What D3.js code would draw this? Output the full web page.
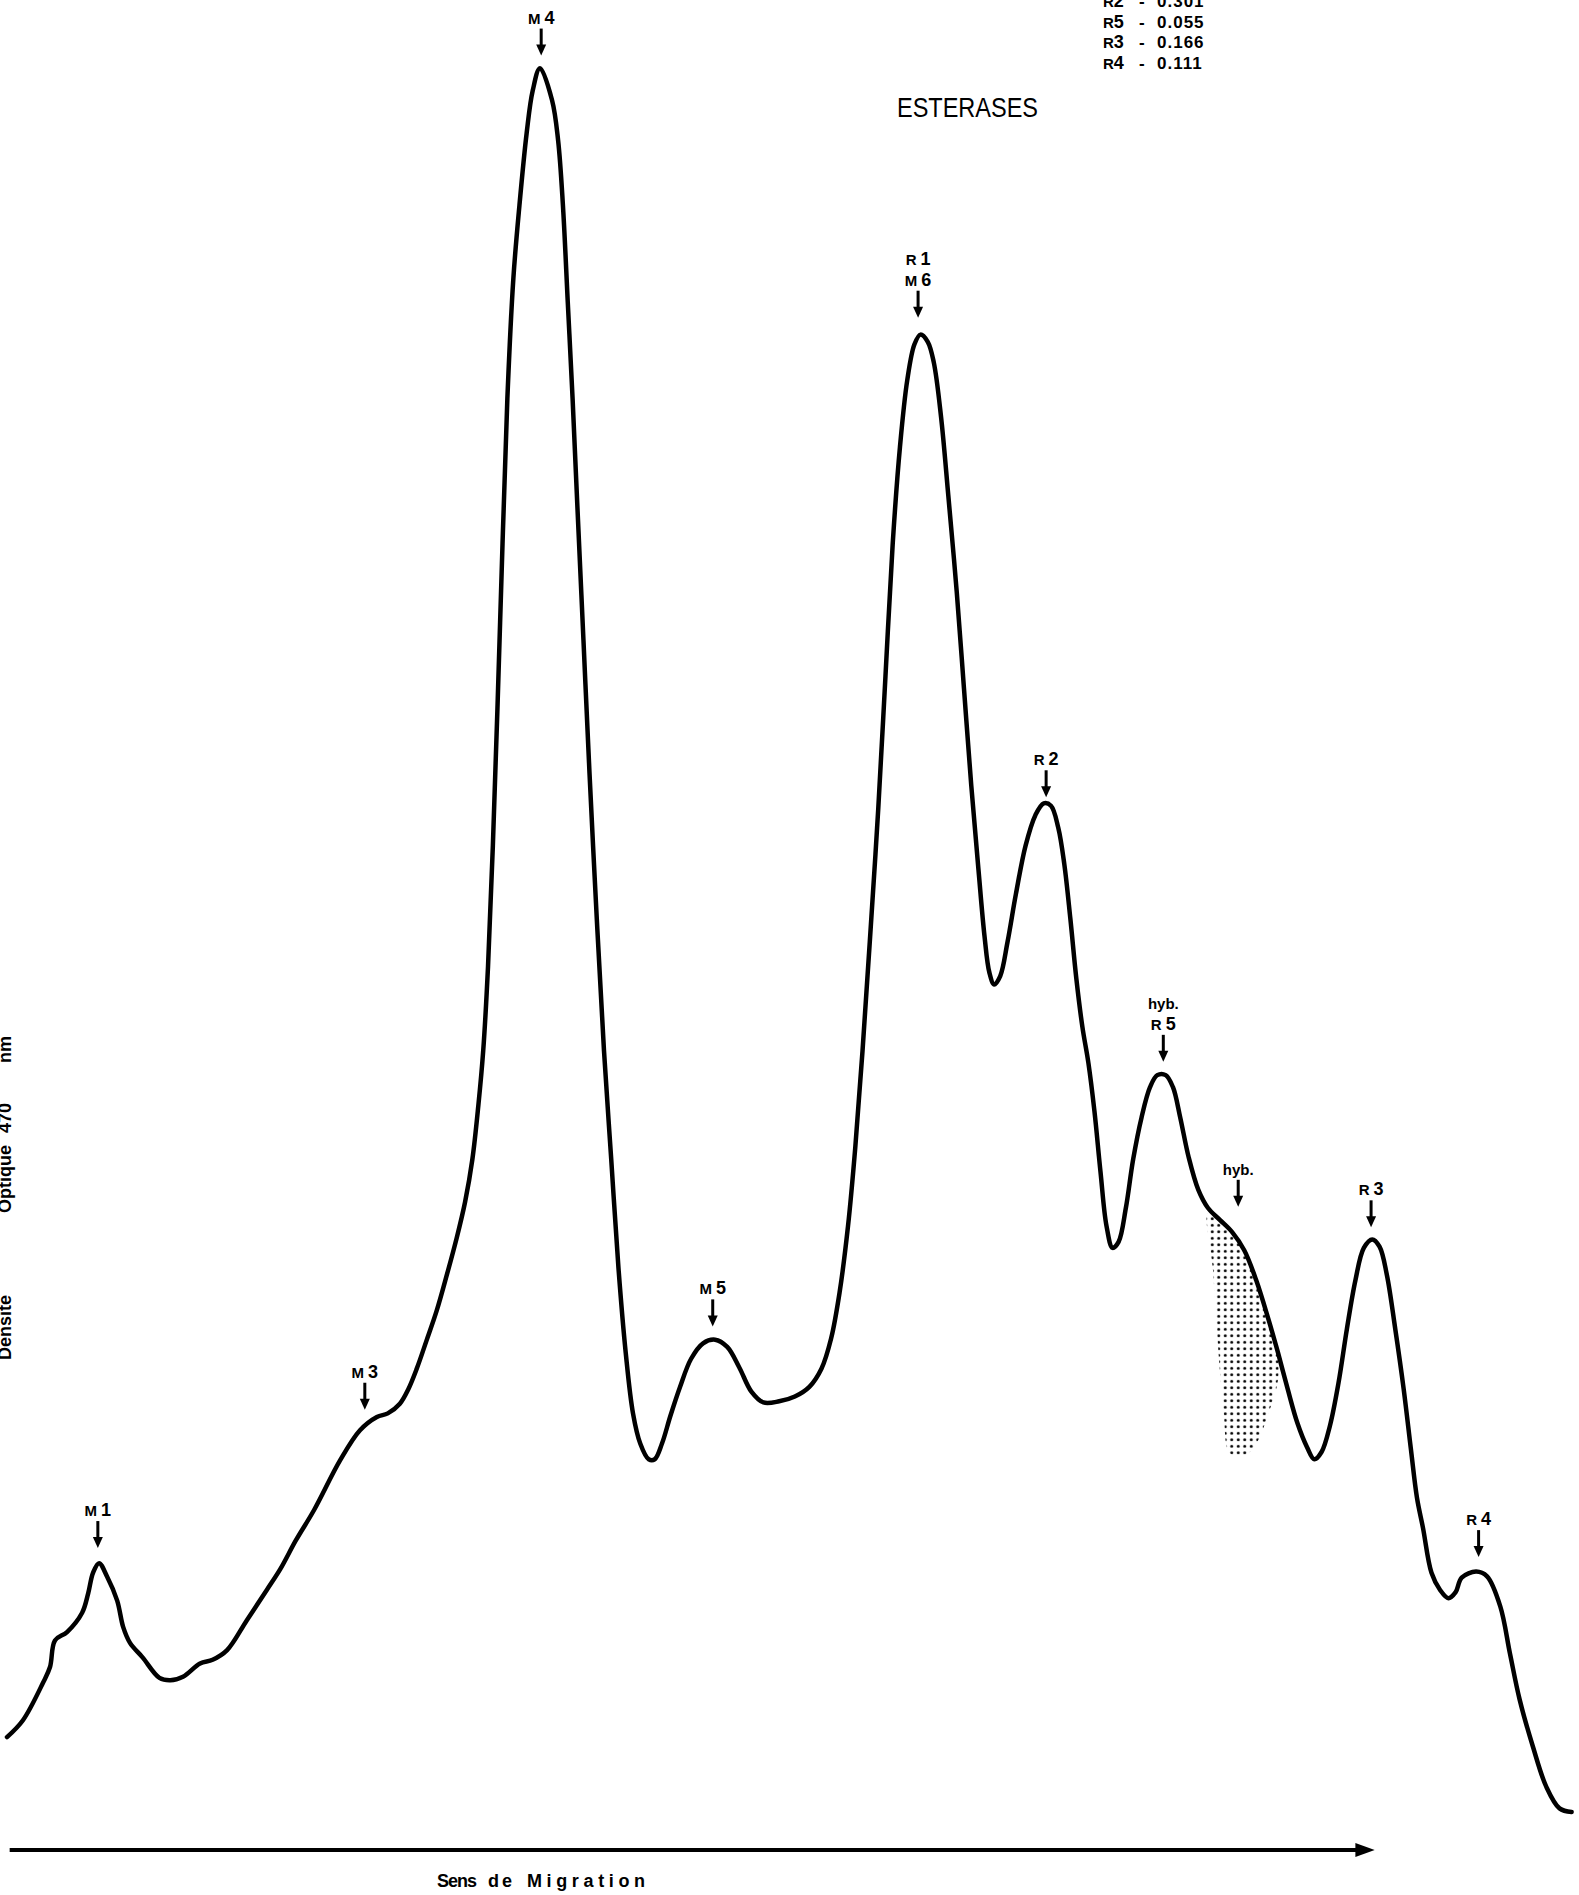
<!DOCTYPE html>
<html>
<head>
<meta charset="utf-8">
<script src="https://cdn.jsdelivr.net/npm/d3@7/dist/d3.min.js"></script>
<style>
  body { margin: 0; background: #fff; }
  svg { display: block; background: #fff; }
</style>
</head>
<body>
<svg width="1579" height="1895"></svg>
<script>
// densitogram trace: migration distance (arbitrary units) and optical density
var migration = [0.58, 1.9, 3.56, 4.14, 4.55, 5.55, 6.8, 7.3, 7.7, 8.2, 8.86, 9.7, 10.2, 10.76, 11.8, 13.2, 14.1, 15.15, 16.56, 17.6, 18.8, 20.45, 22.1, 23.2, 24.5, 26.0, 28.15, 29.8, 31.2, 32.1, 33.1, 33.8, 34.5, 35.3, 36.15, 37.0, 37.8, 38.5, 39.1, 39.6, 40.0, 40.4, 40.8, 41.2, 41.6, 42.0, 42.5, 43.0, 43.6, 44.1, 44.7, 45.7, 46.2, 46.6, 47.0, 47.4, 47.8, 48.3, 48.8, 49.4, 50.0, 50.6, 51.2, 51.8, 52.4, 53.0, 53.7, 54.2, 54.8, 55.5, 56.3, 57.2, 58.2, 59.2, 60.2, 61.2, 62.2, 63.2, 64.5, 65.8, 67.0, 68.0, 68.8, 69.5, 70.2, 70.8, 71.4, 72.0, 72.7, 73.3, 73.9, 74.5, 75.1, 75.7, 76.2, 76.8, 77.3, 77.9, 78.5, 79.2, 79.8, 80.4, 81.0, 81.5, 81.9, 82.3, 82.8, 83.4, 84.1, 84.9, 85.7, 86.4, 87.0, 87.6, 88.1, 88.6, 89.1, 89.6, 90.1, 90.6, 91.1, 91.6, 92.1, 92.6, 93.2, 93.8, 94.5, 95.2, 95.8, 96.5, 97.1, 97.7, 98.4, 99.2, 100.0, 101.0, 102.0, 103.0, 104.0, 105.0, 105.8, 106.6, 107.4, 108.2, 108.8, 109.4, 110.1, 110.8, 111.5, 112.2, 112.9, 113.6, 114.2, 114.8, 115.5, 116.2, 116.8, 117.3, 117.8, 118.5, 119.2, 119.9, 120.5, 121.0, 122.2, 123.1, 124.2, 125.0, 125.8, 126.9, 128.0, 129.1, 130.1];
var densite = [6.2, 7.6, 10.7, 12.0, 14.2, 14.9, 16.5, 18.1, 19.8, 20.6, 19.5, 17.5, 15.3, 14.0, 12.8, 11.1, 10.9, 11.2, 12.3, 12.6, 13.4, 15.9, 18.4, 20.1, 22.5, 25.0, 29.1, 31.6, 32.7, 33.0, 33.8, 35.0, 36.7, 39.0, 41.5, 44.5, 47.5, 50.5, 54.0, 58.5, 63.0, 70.0, 80.0, 92.0, 105.0, 117.0, 127.0, 133.0, 139.0, 142.5, 144.35, 141.7, 138.4, 133.0, 125.0, 117.0, 108.0, 97.0, 86.0, 74.0, 63.0, 54.0, 45.0, 38.0, 33.0, 30.5, 29.2, 29.2, 30.5, 32.8, 35.2, 37.5, 38.8, 39.1, 38.5, 36.8, 34.8, 33.9, 34.0, 34.4, 35.2, 36.7, 39.2, 43.0, 48.5, 55.0, 63.0, 72.0, 83.0, 94.0, 105.0, 113.0, 118.5, 121.5, 122.3, 121.7, 120.0, 115.5, 109.0, 101.0, 93.0, 85.0, 78.0, 72.5, 69.5, 68.5, 69.2, 72.0, 76.0, 80.0, 82.5, 83.5, 83.3, 81.5, 78.5, 74.0, 69.0, 65.0, 62.0, 58.0, 53.0, 48.5, 46.7, 47.2, 50.0, 54.0, 57.5, 60.0, 61.0, 61.0, 60.0, 57.5, 54.2, 51.5, 50.0, 49.0, 48.0, 46.5, 44.0, 40.8, 38.0, 35.0, 32.2, 30.2, 29.2, 29.8, 32.0, 35.5, 40.0, 44.0, 46.7, 47.4, 46.8, 44.5, 40.0, 35.0, 30.0, 26.0, 23.5, 19.8, 18.4, 17.7, 18.2, 19.4, 19.9, 19.5, 17.0, 13.1, 9.3, 5.4, 2.1, 0.3, 0.0];

// shaded hybrid zone (outline)
var hybMigration = [100.0, 101.0, 102.0, 103.0, 104.0, 105.0, 105.7, 105.8, 105.0, 104.0, 103.0, 101.8, 101.3, 100.8, 100.4];
var hybDensite = [49.6, 49.0, 48.0, 46.5, 44.0, 40.8, 38.3, 35.8, 33.0, 30.5, 29.5, 29.7, 33.0, 39.0, 45.0];

// band labels: text lines, migration and density where the arrow points
var bandLabels = [["M1"], ["M3"], ["M4"], ["M5"], ["R1", "M6"], ["R2"], ["hyb.", "R5"], ["hyb."], ["R3"], ["R4"]];
var bandMigration = [8.1, 30.2, 44.8, 59.0, 76.0, 86.6, 96.3, 102.5, 113.5, 122.4];
var bandTip = [21.85, 33.3, 145.4, 40.2, 123.7, 84.0, 62.1, 50.1, 48.4, 21.1];

// relative mobility table (top right)
var rfBands = ["R2", "R5", "R3", "R4"];
var rfValues = ["0.301", "0.055", "0.166", "0.111"];

var svg = d3.select("svg"),
    width = +svg.attr("width"),
    height = +svg.attr("height");

var x = d3.scaleLinear().domain([0, 130]).range([0, 1570.4]);
var y = d3.scaleLinear().domain([0, 150]).range([1812, 0]);

var points = migration.map(function(m, i) { return [m, densite[i]]; });
var hybPoints = hybMigration.map(function(m, i) { return [m, hybDensite[i]]; });

// dotted fill for the hybrid zone
var defs = svg.append("defs");
var pat = defs.append("pattern")
    .attr("id", "dots")
    .attr("patternUnits", "userSpaceOnUse")
    .attr("width", 6.5)
    .attr("height", 6.5);
pat.append("circle")
    .attr("cx", 3.25)
    .attr("cy", 3.25)
    .attr("r", 1.5)
    .attr("fill", "#000");

var line = d3.line()
    .x(function(d) { return x(d[0]); })
    .y(function(d) { return y(d[1]); })
    .curve(d3.curveCatmullRomClosed.alpha(0.5));

svg.append("path")
    .datum(hybPoints)
    .attr("d", line)
    .attr("fill", "url(#dots)")
    .attr("stroke", "none");

line.curve(d3.curveCatmullRom.alpha(0.5));

svg.append("path")
    .datum(points)
    .attr("d", line)
    .attr("fill", "none")
    .attr("stroke", "#000")
    .attr("stroke-width", 4.5)
    .attr("stroke-linejoin", "round")
    .attr("stroke-linecap", "round");

// arrows + labels
var labelFont = "'Liberation Sans', Arial, sans-serif";
bandLabels.forEach(function(lines, i) {
    var cx = x(bandMigration[i]),
        tip = y(bandTip[i]),
        top = tip - 27;
    var g = svg.append("g");
    g.append("line")
        .attr("x1", cx).attr("x2", cx)
        .attr("y1", top).attr("y2", tip - 8)
        .attr("stroke", "#000")
        .attr("stroke-width", 3);
    g.append("path")
        .attr("d", "M" + (cx - 5) + "," + (tip - 11) + "L" + (cx + 5) + "," + (tip - 11) + "L" + cx + "," + tip + "Z")
        .attr("fill", "#000");
    lines.slice().reverse().forEach(function(t, k) {
        var isHyb = t.indexOf("hyb") === 0;
        var txt = g.append("text")
            .attr("x", cx)
            .attr("y", top - 5 - k * 21)
            .attr("text-anchor", "middle")
            .style("font-family", labelFont)
            .style("font-weight", "bold")
            .style("font-size", isHyb ? "15px" : "18px");
        if (isHyb) {
            txt.text(t);
        } else {
            txt.append("tspan").style("font-size", "15px").text(t[0]);
            txt.append("tspan").attr("dx", 4).text(t.slice(1));
        }
    });
});

// title
svg.append("text")
    .attr("x", 897)
    .attr("y", 117)
    .attr("textLength", 141)
    .attr("lengthAdjust", "spacingAndGlyphs")
    .style("font-family", "'Liberation Sans Narrow', 'Liberation Sans', sans-serif")
    .style("font-size", "27px")
    .text("ESTERASES");

// Rf table
rfBands.forEach(function(b, i) {
    var t = svg.append("text")
        .attr("x", 1103)
        .attr("y", 7 + i * 20.5)
        .style("font-family", labelFont)
        .style("font-weight", "bold")
        .style("font-size", "17px");
    t.append("tspan").style("font-size", "15px").text(b[0]);
    t.append("tspan").style("font-size", "18px").text(b.slice(1));
    t.append("tspan").attr("x", 1139).text("-");
    t.append("tspan").attr("x", 1157).style("letter-spacing", "1px").text(rfValues[i]);
});

// migration arrow
var axisY = 1850;
svg.append("line")
    .attr("x1", x(0.8)).attr("x2", x(112.6))
    .attr("y1", axisY).attr("y2", axisY)
    .attr("stroke", "#000")
    .attr("stroke-width", 4);
svg.append("path")
    .attr("d", "M" + x(112.2) + "," + (axisY - 7) + "L" + x(113.8) + "," + axisY + "L" + x(112.2) + "," + (axisY + 7) + "Z")
    .attr("fill", "#000");

var xWords = ["Sens", "de", "Migration"];
var xStarts = [437, 488, 527];
var xLens = [40, 24, 118];
xWords.forEach(function(w, i) {
    svg.append("text")
        .attr("x", xStarts[i])
        .attr("y", 1887)
        .attr("textLength", xLens[i])
        .attr("lengthAdjust", "spacing")
        .style("font-family", labelFont)
        .style("font-weight", "bold")
        .style("font-size", "18px")
        .text(w);
});

// y label, partly cut by the page edge
var yWords = ["Densite", "Optique", "470", "nm"];
var yStarts = [1360, 1213, 1133, 1063];
yWords.forEach(function(w, i) {
    svg.append("text")
        .attr("transform", "translate(11," + yStarts[i] + ") rotate(-90)")
        .style("font-family", labelFont)
        .style("font-weight", "bold")
        .style("font-size", "18px")
        .text(w);
});
</script>
</body>
</html>
